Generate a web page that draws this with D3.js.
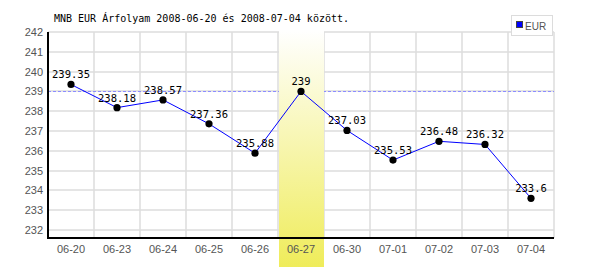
<!DOCTYPE html>
<html>
<head>
<meta charset="utf-8">
<script src="https://cdn.jsdelivr.net/npm/d3@7"></script>
<style>
  body { margin: 0; background: #fff; }
  svg { display: block; }
</style>
</head>
<body>
<svg id="chart"></svg>
<script>
// dados
const napok = ["06-20", "06-23", "06-24", "06-25", "06-26", "06-27", "06-30", "07-01", "07-02", "07-03", "07-04"];
const eur = [239.35, 238.18, 238.57, 237.36, 235.88, 239, 237.03, 235.53, 236.48, 236.32, 233.6];
const y_ticks = [232, 233, 234, 235, 236, 237, 238, 239, 240, 241, 242];
const kiemelt = "06-27";
const cim = "MNB EUR Árfolyam 2008-06-20 és 2008-07-04 között.";

const w = 600, h = 270;
const margin = { top: 32, left: 48, right: 46, bottom: 40 };
const x_axis_y = 238;

const $svg = d3.select("#chart").attr("width", w).attr("height", h);

const defs = $svg.append("defs");
const grad = defs.append("linearGradient")
  .attr("id", "hl").attr("x1", 0).attr("y1", 0).attr("x2", 0).attr("y2", 1);
grad.append("stop").attr("offset", "0%").attr("stop-color", "#ffffff");
grad.append("stop").attr("offset", "100%").attr("stop-color", "#efec5a");

// escalas
const x = d3.scaleBand()
  .domain(napok)
  .range([margin.left, w - margin.right]);

const y = d3.scaleLinear()
  .domain([232, 242])
  .range([230, margin.top]);

const mono = "'DejaVu Sans Mono', monospace";
const sans = "'Liberation Sans', Arial, sans-serif";

// rács
const racs = $svg.append("g").attr("stroke", "#dcdcdc").attr("stroke-width", 1.5);
racs.selectAll("line.h").data(y_ticks).enter().append("line")
  .attr("x1", margin.left).attr("x2", w - margin.right)
  .attr("y1", d => Math.round(y(d))).attr("y2", d => Math.round(y(d)));
racs.selectAll("line.v").data(napok).enter().append("line")
  .attr("x1", d => x(d) + x.bandwidth()).attr("x2", d => x(d) + x.bandwidth())
  .attr("y1", y(242)).attr("y2", x_axis_y);

// vonal 239-nél
$svg.append("line")
  .attr("x1", margin.left).attr("x2", w - margin.right)
  .attr("y1", Math.round(y(239)) + 0.5).attr("y2", Math.round(y(239)) + 0.5)
  .attr("stroke", "#8c8cff").attr("stroke-dasharray", "3,2");

// kiemelés
$svg.append("rect")
  .attr("x", x(kiemelt) + 1).attr("width", x.bandwidth() - 1)
  .attr("y", 30).attr("height", 237)
  .attr("fill", "url(#hl)");

// tengelyek
$svg.append("line")
  .attr("x1", margin.left).attr("x2", margin.left)
  .attr("y1", y(242)).attr("y2", x_axis_y + 1)
  .attr("stroke", "#000").attr("stroke-width", 2);
$svg.append("line")
  .attr("x1", margin.left).attr("x2", w - margin.right)
  .attr("y1", x_axis_y).attr("y2", x_axis_y)
  .attr("stroke", "#000").attr("stroke-width", 2);

$svg.append("g").selectAll("text").data(y_ticks).enter().append("text")
  .attr("x", 43).attr("y", d => y(d))
  .attr("dy", "0.36em")
  .attr("text-anchor", "end")
  .attr("font-family", sans).attr("font-size", 11)
  .attr("fill", "#555")
  .text(d => d);

$svg.append("g").selectAll("text").data(napok).enter().append("text")
  .attr("x", d => x(d) + x.bandwidth() / 2).attr("y", 253)
  .attr("text-anchor", "middle")
  .attr("font-family", sans).attr("font-size", 11)
  .attr("fill", "#555")
  .text(d => d);

// vonal + pontok
const pontok = napok.map((d, i) => ({ nap: d, ertek: eur[i] }));
const line = d3.line()
  .x(d => x(d.nap) + x.bandwidth() / 2)
  .y(d => y(d.ertek));

$svg.append("path").datum(pontok)
  .attr("d", line)
  .attr("fill", "none").attr("stroke", "#0000ff").attr("stroke-width", 1);

$svg.append("g").selectAll("circle").data(pontok).enter().append("circle")
  .attr("cx", d => x(d.nap) + x.bandwidth() / 2)
  .attr("cy", d => y(d.ertek))
  .attr("r", 3.6).attr("fill", "#000");

$svg.append("g").selectAll("text").data(pontok).enter().append("text")
  .attr("x", d => x(d.nap) + x.bandwidth() / 2)
  .attr("y", d => y(d.ertek) - 6)
  .attr("text-anchor", "middle")
  .attr("font-family", mono).attr("font-size", 10.5)
  .attr("fill", "#000")
  .text(d => d.ertek);

// cím
$svg.append("text")
  .attr("x", 54).attr("y", 22)
  .attr("font-family", mono).attr("font-size", 10)
  .attr("fill", "#000")
  .text(cim);

// jelmagyarázat
const leg = $svg.append("g");
leg.append("rect")
  .attr("x", 511.5).attr("y", 15.5).attr("width", 41).attr("height", 20)
  .attr("fill", "#fff").attr("stroke", "#dcdcdc").attr("stroke-width", 1);
leg.append("rect")
  .attr("x", 516.5).attr("y", 21.5).attr("width", 6).attr("height", 6)
  .attr("fill", "#0000ff").attr("stroke", "#444");
leg.append("text")
  .attr("x", 525).attr("y", 29.5)
  .attr("font-family", sans).attr("font-size", 10)
  .attr("fill", "#555")
  .text("EUR");
</script>
</body>
</html>
